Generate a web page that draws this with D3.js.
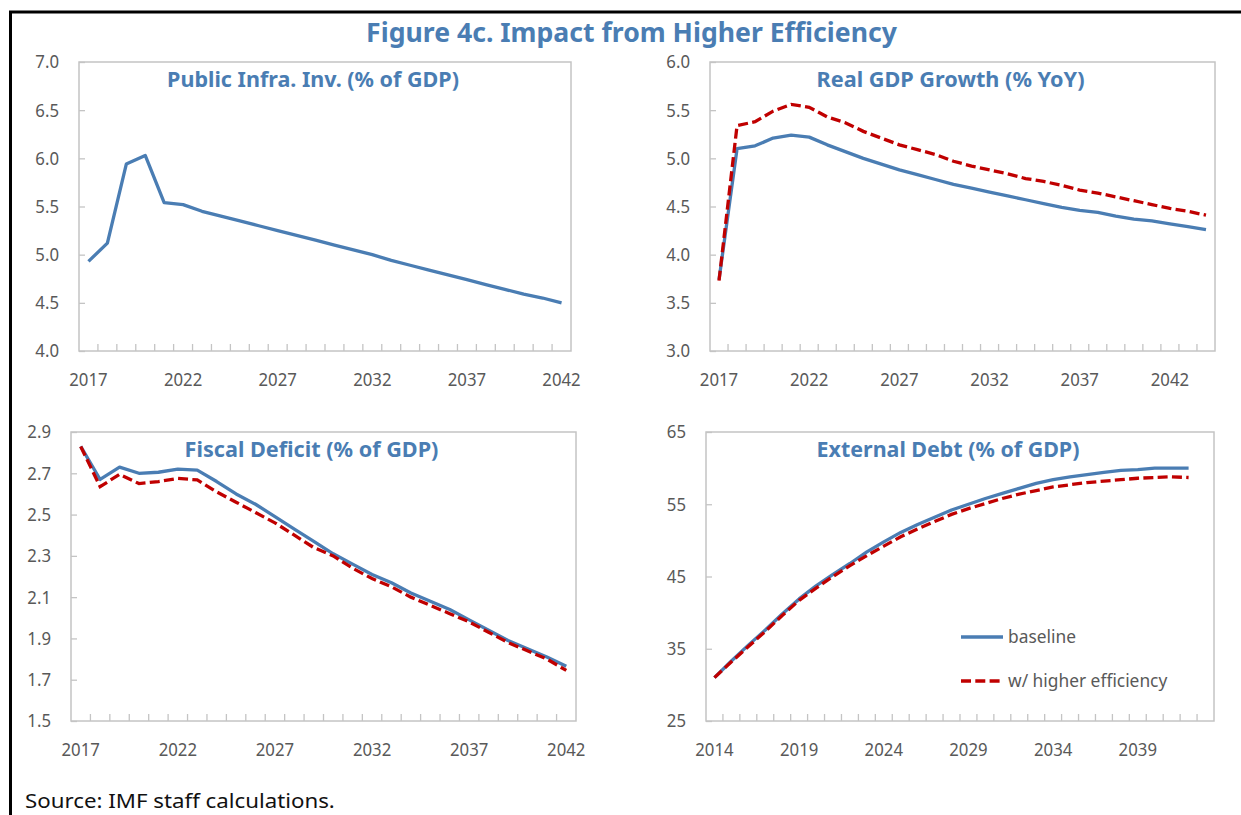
<!DOCTYPE html>
<html>
<head>
<meta charset="utf-8">
<script src="https://cdn.jsdelivr.net/npm/d3@7"></script>
<style>
  body { margin: 0; background: #fff; }
  svg { display: block; font-family: "Noto Sans", "Open Sans", sans-serif; }
</style>
</head>
<body>
<div id="chart-area"></div>
<script>
// ---- data ----
var infraYears = d3.range(2017, 2043);
var infraBaseline = [4.93, 5.12, 5.94, 6.03, 5.54, 5.52, 5.45, 5.40, 5.35, 5.30, 5.25, 5.20, 5.15,
                     5.10, 5.05, 5.00, 4.94, 4.89, 4.84, 4.79, 4.74, 4.69, 4.64, 4.59, 4.55, 4.50];

var growthYears = d3.range(2017, 2045);
var growthBaseline = [3.74, 5.10, 5.13, 5.21, 5.24, 5.22, 5.14, 5.07, 5.00, 4.94, 4.88, 4.83, 4.78, 4.73,
                      4.69, 4.65, 4.61, 4.57, 4.53, 4.49, 4.46, 4.44, 4.40, 4.37, 4.35, 4.32, 4.29, 4.26];
var growthEfficiency = [3.73, 5.34, 5.38, 5.49, 5.56, 5.53, 5.43, 5.37, 5.28, 5.21, 5.14, 5.09, 5.04, 4.97,
                        4.92, 4.88, 4.84, 4.79, 4.76, 4.72, 4.67, 4.64, 4.60, 4.56, 4.52, 4.48, 4.45, 4.41];

var deficitYears = d3.range(2017, 2043);
var deficitBaseline = [2.83, 2.67, 2.73, 2.70, 2.705, 2.72, 2.715, 2.66, 2.60, 2.55, 2.49, 2.43, 2.37,
                       2.31, 2.26, 2.21, 2.17, 2.12, 2.08, 2.04, 1.99, 1.94, 1.89, 1.85, 1.81, 1.765];
var deficitEfficiency = [2.83, 2.635, 2.695, 2.65, 2.66, 2.675, 2.668, 2.61, 2.56, 2.51, 2.46, 2.40, 2.34,
                         2.30, 2.24, 2.19, 2.15, 2.10, 2.06, 2.02, 1.98, 1.93, 1.88, 1.84, 1.80, 1.745];

var debtYears = d3.range(2014, 2044);
var debtBaseline = [31.0, 33.3, 35.5, 37.6, 39.8, 41.9, 43.7, 45.3, 46.8, 48.4, 49.8, 51.1, 52.2, 53.2, 54.2,
                    55.0, 55.8, 56.5, 57.2, 57.9, 58.4, 58.8, 59.1, 59.4, 59.7, 59.8, 60.0, 60.0, 60.0];
var debtEfficiency = [31.0, 33.2, 35.3, 37.4, 39.6, 41.7, 43.4, 45.0, 46.5, 47.9, 49.2, 50.5, 51.6, 52.6, 53.6,
                      54.4, 55.1, 55.8, 56.4, 56.9, 57.4, 57.7, 58.0, 58.2, 58.4, 58.6, 58.7, 58.8, 58.7];

var infraYTicks   = [4.0, 4.5, 5.0, 5.5, 6.0, 6.5, 7.0];
var growthYTicks  = [3.0, 3.5, 4.0, 4.5, 5.0, 5.5, 6.0];
var deficitYTicks = [1.5, 1.7, 1.9, 2.1, 2.3, 2.5, 2.7, 2.9];
var debtYTicks    = [25, 35, 45, 55, 65];

var xLabels2017 = [2017, 2022, 2027, 2032, 2037, 2042];
var xLabels2014 = [2014, 2019, 2024, 2029, 2034, 2039];

var seriesNames = ["baseline", "w/ higher efficiency"];

// ---- styles ----
var blue = "#4a7db3";
var red = "#c00000";
var labelColor = "#595959";
var frameColor = "#c4c4c4";
var lineWidth = 3.3;
var dash = "10,4.3";

var svg = d3.select("#chart-area")
            .append("svg")
            .attr("width", 1241)
            .attr("height", 815);

// the reference font is narrower than ours: keep the height, squeeze horizontally
function squeezeBy(sel, k) {
    sel.each(function() {
        var t = d3.select(this);
        var x = +t.attr("x") || 0, y = +t.attr("y") || 0;
        t.attr("transform", "translate(" + x + "," + y + ") scale(" + k + ",1)")
         .attr("x", 0).attr("y", 0);
    });
}
function squeezeTo(sel, w) {
    squeezeBy(sel, w / sel.node().getComputedTextLength());
}

// outer box (left and top edges only are visible)
svg.append("path")
   .attr("d", "M10.5,815 L10.5,12 L1241,12")
   .attr("fill", "none")
   .attr("stroke", "#000")
   .attr("stroke-width", 3);

var mainTitle = svg.append("text")
   .attr("x", 631.5)
   .attr("y", 42)
   .attr("text-anchor", "middle")
   .attr("font-size", 26)
   .attr("font-weight", "bold")
   .attr("fill", blue)
   .text("Figure 4c. Impact from Higher Efficiency");
squeezeTo(mainTitle, 531);

var source = svg.append("text")
   .attr("x", 25)
   .attr("y", 808)
   .attr("font-size", 20)
   .attr("fill", "#111")
   .text("Source: IMF staff calculations.");
squeezeTo(source, 310);

var tickScale = null;

function drawPanel(p) {
    var w = p.x1 - p.x0, h = p.y1 - p.y0;
    var g = svg.append("g").attr("transform", "translate(" + p.x0 + "," + p.y0 + ")");

    var x = d3.scaleBand().domain(p.years).range([0, w]).padding(0);
    var y = d3.scaleLinear().domain(p.yDomain).range([h, 0]);

    // frame
    g.append("rect")
     .attr("width", w).attr("height", h)
     .attr("fill", "none")
     .attr("stroke", frameColor)
     .attr("stroke-width", 1.5);

    // y axis, ticks pointing inward
    var yAxis = g.append("g")
     .call(d3.axisLeft(y).tickValues(p.yTicks).tickSize(-6).tickPadding(20).tickFormat(d3.format(p.yFormat)));
    yAxis.select(".domain").remove();
    yAxis.selectAll("line").attr("stroke", frameColor).attr("stroke-width", 1.3);
    yAxis.selectAll("text").attr("fill", labelColor).attr("font-size", 18.5)
         .attr("font-family", "Noto Sans, sans-serif");

    // x category boundary ticks, inward
    g.append("g").selectAll("line")
     .data(p.years.slice(1))
     .join("line")
     .attr("x1", function(d) { return x(d); })
     .attr("x2", function(d) { return x(d); })
     .attr("y1", h).attr("y2", h - 7)
     .attr("stroke", frameColor).attr("stroke-width", 1.3);

    // x labels every 5 years
    var xAxis = g.append("g")
     .attr("transform", "translate(0," + h + ")")
     .call(d3.axisBottom(x).tickValues(p.xLabels).tickSize(0).tickFormat(d3.format("d")));
    xAxis.select(".domain").remove();
    var xText = xAxis.selectAll("text")
         .attr("y", 35).attr("dy", 0)
         .attr("fill", labelColor).attr("font-size", 18.5)
         .attr("font-family", "Noto Sans, sans-serif");

    if (tickScale === null) tickScale = 38.4 / xText.node().getComputedTextLength();
    squeezeBy(xText, tickScale);
    squeezeBy(yAxis.selectAll("text"), tickScale);

    var line = d3.line()
        .x(function(d, i) { return x(p.years[i]) + x.bandwidth() / 2; })
        .y(function(d) { return y(d); });

    g.append("path")
     .attr("d", line(p.baseline))
     .attr("fill", "none")
     .attr("stroke", blue)
     .attr("stroke-width", lineWidth)
     .attr("stroke-linejoin", "round");

    if (p.efficiency) {
        g.append("path")
         .attr("d", line(p.efficiency))
         .attr("fill", "none")
         .attr("stroke", red)
         .attr("stroke-width", lineWidth)
         .attr("stroke-dasharray", dash);
    }

    var t = g.append("text")
     .attr("x", w / 2 - 12)
     .attr("y", 24.5)
     .attr("text-anchor", "middle")
     .attr("font-size", 21.5)
     .attr("font-weight", "bold")
     .attr("fill", blue)
     .text(p.title);
    squeezeTo(t, p.titleW);

    return { g: g, x: x, y: y, w: w, h: h };
}

drawPanel({ x0: 79, x1: 571, y0: 62, y1: 351, years: infraYears, yDomain: [4, 7],
            yTicks: infraYTicks, yFormat: ".1f", xLabels: xLabels2017,
            baseline: infraBaseline, title: "Public Infra. Inv. (% of GDP)", titleW: 292 });

drawPanel({ x0: 710, x1: 1215, y0: 62, y1: 351, years: growthYears, yDomain: [3, 6],
            yTicks: growthYTicks, yFormat: ".1f", xLabels: xLabels2017,
            baseline: growthBaseline, efficiency: growthEfficiency,
            title: "Real GDP Growth (% YoY)", titleW: 268 });

drawPanel({ x0: 71, x1: 576, y0: 432, y1: 721, years: deficitYears, yDomain: [1.5, 2.9],
            yTicks: deficitYTicks, yFormat: ".1f", xLabels: xLabels2017,
            baseline: deficitBaseline, efficiency: deficitEfficiency,
            title: "Fiscal Deficit (% of GDP)", titleW: 254 });

var debt = drawPanel({ x0: 706, x1: 1214, y0: 432, y1: 721, years: debtYears, yDomain: [25, 65],
            yTicks: debtYTicks, yFormat: "d", xLabels: xLabels2014,
            baseline: debtBaseline, efficiency: debtEfficiency,
            title: "External Debt (% of GDP)", titleW: 263 });

// legend inside the external debt panel
var legend = debt.g.append("g").attr("transform", "translate(255,205)");
legend.selectAll("g")
      .data(seriesNames)
      .join("g")
      .attr("transform", function(d, i) { return "translate(0," + (i * 44) + ")"; })
      .each(function(d, i) {
          var item = d3.select(this);
          item.append("line")
              .attr("x1", 0).attr("x2", 42)
              .attr("stroke", i === 0 ? blue : red)
              .attr("stroke-width", lineWidth)
              .attr("stroke-dasharray", i === 0 ? null : dash);
          item.append("text")
              .attr("x", 47).attr("dy", "0.35em")
              .attr("font-size", 18.5)
              .attr("fill", labelColor)
              .text(d);
      });
var legendLabels = legend.selectAll("text");
squeezeBy(legendLabels, 68 / legendLabels.node().getComputedTextLength());
</script>
</body>
</html>
